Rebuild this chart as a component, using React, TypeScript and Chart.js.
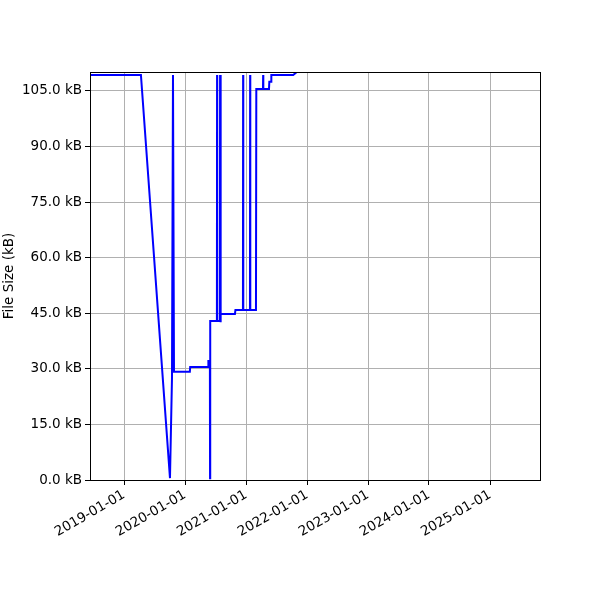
import React, { useEffect, useRef } from 'react';
import { Chart, registerables } from 'chart.js';

Chart.register(...registerables);

// commit dates and file size (kB)
const dates = [
  '2018-06-11', '2019-04-12', '2019-10-03', '2019-10-15', '2019-10-21', '2019-10-27',
  '2020-01-30', '2020-02-01', '2020-05-18', '2020-05-20', '2020-05-29', '2020-05-30',
  '2020-05-31', '2020-07-10', '2020-07-11', '2020-07-12', '2020-07-28', '2020-07-29',
  '2020-07-31', '2020-08-03', '2020-10-26', '2020-10-29', '2020-12-13', '2020-12-14',
  '2020-12-15', '2021-01-24', '2021-01-25', '2021-01-26', '2021-03-01', '2021-03-03',
  '2021-04-12', '2021-04-13', '2021-04-14', '2021-05-18', '2021-05-20', '2021-05-30',
  '2021-06-01', '2021-10-10', '2021-11-03', '2021-11-15',
];
const sizes = [
  109.3, 109.3, 0.5, 27.5, 109.3, 29.2,
  29.2, 30.5, 30.5, 32.1, 32.1, 0.5,
  42.9, 42.9, 109.3, 42.9, 42.9, 109.3,
  42.6, 44.8, 44.8, 45.9, 45.9, 109.3,
  45.9, 45.9, 109.3, 45.9, 45.9, 105.5,
  105.5, 109.3, 105.5, 105.5, 107.5, 107.5,
  109.3, 109.3, 110.2, 112.0,
];

const yTicks = [0, 15, 30, 45, 60, 75, 90, 105];
const xTickDates = ['2019-01-01', '2020-01-01', '2021-01-01', '2022-01-01', '2023-01-01', '2024-01-01', '2025-01-01'];
const xMinDate = '2018-06-11';
const xMaxDate = '2025-10-27';
const yMax = 110.1;

const ms = (d: string) => Date.parse(d + 'T00:00:00Z');
const fmt = (v: number) => new Date(v).toISOString().slice(0, 10);

const FONT = { family: 'DejaVu Sans', size: 13.5 };

const boxPlugin = {
  id: 'box',
  afterDraw(chart: Chart) {
    const { ctx, chartArea: a } = chart;
    ctx.save();
    ctx.strokeStyle = '#000';
    ctx.lineWidth = 1;
    ctx.strokeRect(Math.round(a.left) + 0.5, Math.round(a.top) + 0.5, Math.round(a.right - a.left), Math.round(a.bottom - a.top));
    ctx.restore();
  },
};

const App: React.FC = () => {
  const chartRef = useRef<HTMLCanvasElement | null>(null);
  const chartInstance = useRef<Chart | null>(null);

  useEffect(() => {
    document.body.style.margin = '0';
    if (!chartRef.current) return;
    const ctx = chartRef.current.getContext('2d');
    if (!ctx) return;
    if (chartInstance.current) chartInstance.current.destroy();

    chartInstance.current = new Chart(ctx, {
      type: 'line',
      data: {
        datasets: [{
          data: dates.map((d, i) => ({ x: ms(d), y: sizes[i] })),
          borderColor: '#0000ff',
          borderWidth: 2,
          pointRadius: 0,
          tension: 0,
          fill: false,
          clip: 0,
        }],
      },
      options: {
        responsive: false,
        animation: false,
        devicePixelRatio: 1,
        layout: { padding: { top: 72, right: 60, left: 0, bottom: 0 } },
        plugins: { legend: { display: false }, tooltip: { enabled: false } },
        scales: {
          x: {
            type: 'linear',
            min: ms(xMinDate),
            max: ms(xMaxDate),
            afterBuildTicks: (scale: any) => {
              scale.ticks = xTickDates.map((d) => ({ value: ms(d) }));
            },
            afterFit: (scale: any) => { scale.height = 120; },
            grid: { color: '#b0b0b0', lineWidth: 1, tickColor: '#000', tickLength: 5 },
            border: { display: false },
            ticks: {
              autoSkip: false,
              minRotation: 30,
              maxRotation: 30,
              padding: 2,
              color: '#000',
              font: FONT,
              callback: (v: any) => fmt(Number(v)),
            },
          },
          y: {
            min: 0,
            max: yMax,
            afterBuildTicks: (scale: any) => {
              scale.ticks = yTicks.map((v) => ({ value: v }));
            },
            afterFit: (scale: any) => { scale.width = 90; },
            grid: { color: '#b0b0b0', lineWidth: 1, tickColor: '#000', tickLength: 5 },
            border: { display: false },
            title: {
              display: true,
              text: 'File Size (kB)',
              color: '#000',
              font: FONT,
              padding: { top: 1, bottom: 0 },
            },
            ticks: {
              padding: 3,
              color: '#000',
              font: FONT,
              callback: (v: any) => Number(v).toFixed(1) + ' kB',
            },
          },
        },
      },
      plugins: [boxPlugin],
    });

    return () => {
      if (chartInstance.current) chartInstance.current.destroy();
      chartInstance.current = null;
    };
  }, []);

  return (
    <div style={{ width: 600, height: 600 }}>
      <canvas ref={chartRef} width={600} height={600} style={{ width: 600, height: 600 }} />
    </div>
  );
};

export default App;
